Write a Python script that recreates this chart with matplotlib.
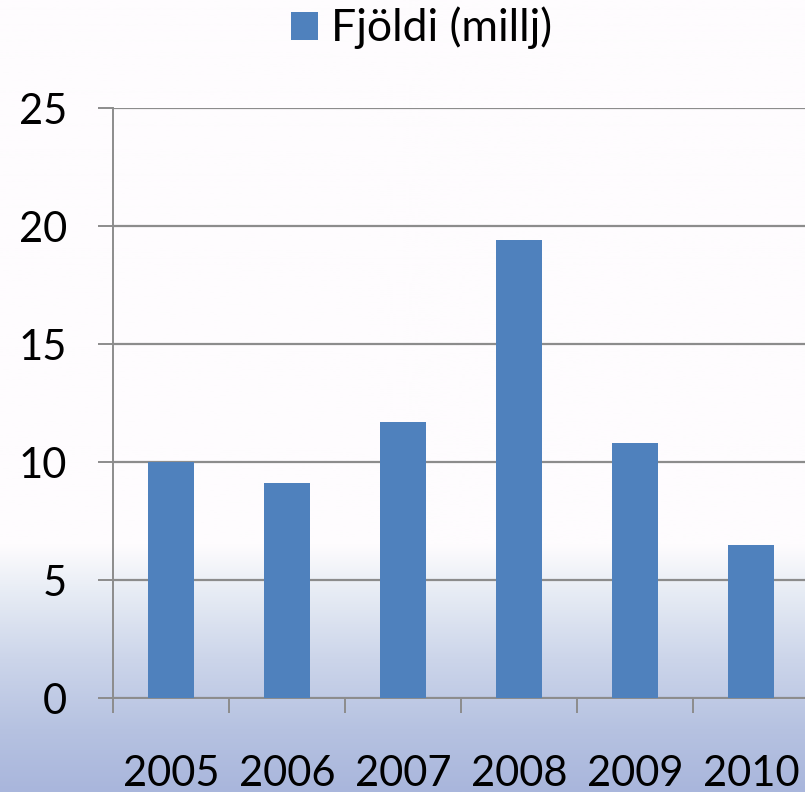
import numpy as np
import matplotlib
matplotlib.use("Agg")
import matplotlib.pyplot as plt
from matplotlib.patches import Patch

years = ["2005", "2006", "2007", "2008", "2009", "2010"]
values = [10.0, 9.1, 11.7, 19.4, 10.8, 6.5]
series_name = "Fjöldi (millj)"
yticks = [0, 5, 10, 15, 20, 25]

W, H, DPI = 805, 792, 100
fig = plt.figure(figsize=(W / DPI, H / DPI), dpi=DPI)
fig.patch.set_facecolor("#fefcfe")

# background water-like gradient
bg = fig.add_axes([0, 0, 1, 1], zorder=0)
bg.set_axis_off()
ys = np.linspace(0, 1, 400)  # 0 = top, 1 = bottom
top = np.array([0xfe, 0xfc, 0xfe]) / 255
c1 = np.array([0xe8, 0xed, 0xf5]) / 255
c2 = np.array([0xcc, 0xd5, 0xea]) / 255
c3 = np.array([0xb6, 0xc2, 0xe1]) / 255
c4 = np.array([0xa9, 0xb6, 0xdc]) / 255
stops = [(0.0, top), (545 / H, top), (590 / H, c1), (660 / H, c2), (730 / H, c3), (1.0, c4)]
img = np.zeros((len(ys), 1, 3))
for i, y in enumerate(ys):
    for (a, ca), (b, cb) in zip(stops[:-1], stops[1:]):
        if a <= y <= b:
            t = 0 if b == a else (y - a) / (b - a)
            img[i, 0] = ca * (1 - t) + cb * t
            break
bg.imshow(img, aspect="auto", extent=[0, 1, 0, 1], origin="upper")
bg.set_xlim(0, 1)
bg.set_ylim(0, 1)

font = "Lato"
left_px, right_px, top_px, bot_px = 113, 809, 108, 698
ax = fig.add_axes([left_px / W, 1 - bot_px / H, (right_px - left_px) / W, (bot_px - top_px) / H], zorder=1)
ax.patch.set_alpha(0)
x = np.arange(len(years))
bars = ax.bar(x, values, width=0.40, color="#4f81bd", zorder=3, label=series_name)
ax.set_xlim(-0.5, len(years) - 0.5)
ax.set_ylim(0, 25)
ax.set_yticks(yticks)
ax.set_yticklabels([str(v) for v in yticks], fontsize=30, fontfamily=font)
ax.set_xticks(np.arange(len(years) + 1) - 0.5)
ax.set_xticklabels([""] * (len(years) + 1))
ax.set_xticks(x, minor=True)
ax.set_xticklabels(years, minor=True, fontsize=30, fontfamily=font)
ax.tick_params(axis="x", which="minor", length=0, pad=41)
ax.tick_params(axis="x", which="major", length=11, width=1.4, color="#8c8c8c", direction="out")
ax.tick_params(axis="y", length=11, width=1.4, color="#8c8c8c", pad=22)
ax.yaxis.grid(True, color="#8c8c8c", linewidth=1.6, zorder=1)
for s in ["top", "right"]:
    ax.spines[s].set_visible(False)
for s in ["left", "bottom"]:
    ax.spines[s].set_color("#8c8c8c")
    ax.spines[s].set_linewidth(1.4)
ax.set_axisbelow(True)

fig.legend(handles=[Patch(facecolor="#4f81bd", label=series_name)], loc="center",
           bbox_to_anchor=(422 / W, 1 - 28 / H), frameon=False,
           prop={"family": font, "size": 32}, handlelength=0.6, handleheight=0.6,
           handletextpad=0.3)

fig.savefig("out.png", dpi=DPI, facecolor=fig.get_facecolor())
